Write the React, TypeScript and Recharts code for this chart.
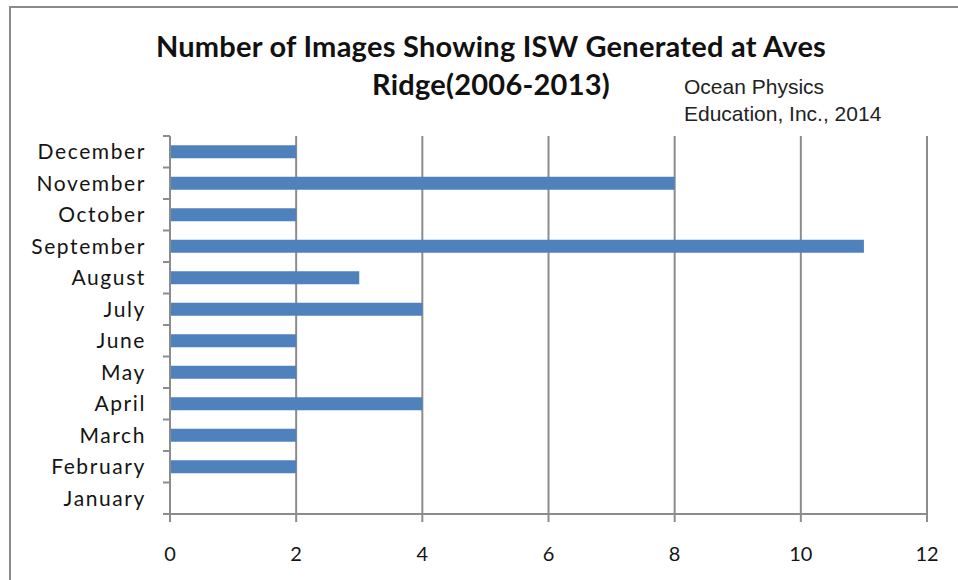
import { BarChart, Bar, XAxis, YAxis, CartesianGrid } from "recharts";

const months = [
  "January", "February", "March", "April", "May", "June",
  "July", "August", "September", "October", "November", "December",
];
const imageCounts = [0, 2, 2, 4, 2, 2, 4, 3, 11, 2, 8, 2];
const xTicks = [0, 2, 4, 6, 8, 10, 12];

const titleLines = ["Number of Images Showing ISW Generated at Aves", "Ridge(2006-2013)"];
const creditLines = ["Ocean Physics", "Education, Inc., 2014"];

const data = months.map((month, i) => ({ month, count: imageCounts[i] }));

const AXIS_GRAY = "#8c8c8c";
const LABEL_FONT = "Lato, 'Open Sans', sans-serif";

// Category label with tick marks on the band edges rather than the centre
function MonthTick(props: any) {
  const { x, y, payload, index } = props;
  const half = payload?.offset ?? 15.75;
  const lineX1 = x + 17;
  const lineX2 = x + 24;
  return (
    <g>
      <text
        x={x}
        y={y}
        dy="0.35em"
        textAnchor="end"
        fill="#141414"
        fontSize={21}
        fontFamily={LABEL_FONT}
        letterSpacing={1.6}
      >
        {payload.value}
      </text>
      <line x1={lineX1} x2={lineX2} y1={y + half} y2={y + half} stroke={AXIS_GRAY} strokeWidth={2} />
      {index === months.length - 1 && (
        <line x1={lineX1} x2={lineX2} y1={y - half} y2={y - half} stroke={AXIS_GRAY} strokeWidth={2} />
      )}
    </g>
  );
}

export default function App() {
  return (
    <div style={{ position: "absolute", left: 0, top: 0, width: 958, height: 580, background: "#fff", overflow: "hidden" }}>
      <div
        style={{
          position: "absolute",
          left: 9,
          top: 6,
          right: -4,
          bottom: -4,
          borderLeft: "2px solid #8a8a8a",
          borderTop: "2px solid #8a8a8a",
        }}
      />
      <div
        style={{
          position: "absolute",
          left: 0,
          top: 27,
          width: 982,
          textAlign: "center",
          fontFamily: LABEL_FONT,
          fontWeight: 700,
          fontSize: 29,
          letterSpacing: 0.25,
          lineHeight: "38px",
          color: "#111",
        }}
      >
        {titleLines.map((t) => (
          <div key={t}>{t}</div>
        ))}
      </div>
      <div
        style={{
          position: "absolute",
          left: 684,
          top: 73,
          fontFamily: "'Liberation Sans', Arial, sans-serif",
          fontSize: 21,
          lineHeight: "27px",
          color: "#222",
        }}
      >
        {creditLines.map((t) => (
          <div key={t}>{t}</div>
        ))}
      </div>
      <div style={{ position: "absolute", left: 0, top: 0 }}>
        <BarChart
          width={958}
          height={580}
          data={data}
          layout="vertical"
          margin={{ top: 136, right: 31, bottom: 0, left: 10 }}
          barCategoryGap="29%"
        >
          <CartesianGrid horizontal={false} vertical stroke={AXIS_GRAY} strokeWidth={2} />
          <XAxis
            type="number"
            domain={[0, 12]}
            ticks={xTicks}
            interval={0}
            stroke={AXIS_GRAY}
            tickSize={8}
            tickMargin={25}
            tick={{ fill: "#141414", fontSize: 20, fontFamily: LABEL_FONT }}
            axisLine={{ stroke: AXIS_GRAY, strokeWidth: 2 }}
            tickLine={{ stroke: AXIS_GRAY, strokeWidth: 2 }}
            height={66}
          />
          <YAxis
            type="category"
            dataKey="month"
            reversed
            width={160}
            interval={0}
            tickLine={false}
            tickSize={7}
            tickMargin={17}
            axisLine={{ stroke: AXIS_GRAY, strokeWidth: 2 }}
            tick={<MonthTick />}
          />
          <Bar dataKey="count" fill="#4f81bd" isAnimationActive={false} />
        </BarChart>
      </div>
    </div>
  );
}
